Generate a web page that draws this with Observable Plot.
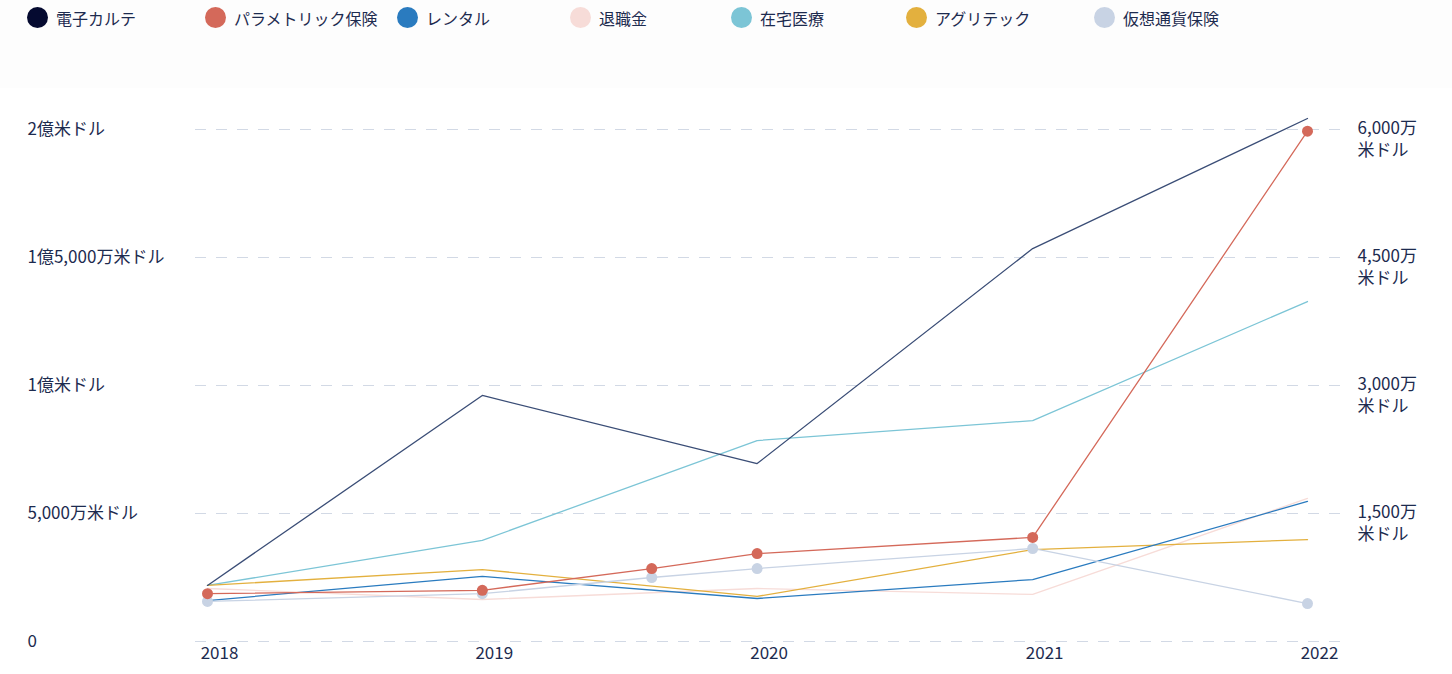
<!DOCTYPE html>
<html><head><meta charset="utf-8">
<script src="https://cdn.jsdelivr.net/npm/d3@7"></script>
<script src="https://cdn.jsdelivr.net/npm/@observablehq/plot@0.6"></script>
<style>
body{margin:0;background:#fff;font-family:"Noto Sans CJK JP","Noto Sans",sans-serif;}
#wrap{position:relative;width:1452px;height:674px;overflow:hidden}
#band{position:absolute;left:0;top:0;width:1452px;height:88px;background:#fdfdfd}
#legend{position:absolute;left:0;top:0;height:40px;width:1452px}
.item{position:absolute;top:7px;height:21px;display:flex;align-items:center;font-size:16px;color:#1d2b4f;white-space:nowrap}
.sw{width:21px;height:21px;border-radius:50%;margin-right:8px;flex:none}
#chart{position:absolute;left:0;top:88px}
</style></head><body>
<div id="wrap"><div id="band"></div><div id="legend"></div><div id="chart"></div></div>
<script>
// ---- data (values in 万米ドル) ----
const seriesNames = ["電子カルテ","パラメトリック保険","レンタル","退職金","在宅医療","アグリテック","仮想通貨保険"];
const seriesColors = ["#050a30","#d4695a","#2a7bbf","#f7dcd8","#7cc5d6","#e3b03e","#c8d3e4"];
const years = ["2018","2019","2020","2021","2022"];
const yearDates = ["2018-01-01","2019-01-01","2020-01-01","2021-01-01","2022-01-01"];
// left axis series
const emr        = [2190, 9610, 6950, 15350, 20430];
const rental     = [1600, 2540, 1680, 2420, 5470];
const retirement = [2070, 1640, 2070, 1840, 5590];
const homecare   = [2190, 3950, 7850, 8630, 13280];
const agritech   = [2190, 2810, 1760, 3590, 3980];
// right axis series (with markers)
const rightDates = ["2018-01-01","2019-01-01","2019-08-14","2020-01-01","2021-01-01","2022-01-01"];
const parametric = [560, 600, 855, 1030, 1220, 5980];
const crypto     = [470, 560, 750, 855, 1090, 445];
// axes
const leftTicks = [0, 5000, 10000, 15000, 20000];
const leftTickLabels = ["0","5,000万米ドル","1億米ドル","1億5,000万米ドル","2億米ドル"];
const rightTicks = [1500, 3000, 4500, 6000];
const rightTickLabels = ["1,500万\n米ドル","3,000万\n米ドル","4,500万\n米ドル","6,000万\n米ドル"];
const leftMax = 20000, rightMax = 6000;

// ---- legend ----
const legendLeft = [27, 205, 397, 570, 731, 906, 1094];
const lg = document.getElementById("legend");
seriesNames.forEach((n, i) => {
  const d = document.createElement("div");
  d.className = "item";
  d.style.left = legendLeft[i] + "px";
  d.innerHTML = `<span class="sw" style="background:${seriesColors[i]}"></span><span>${n}</span>`;
  lg.appendChild(d);
});

// ---- tables ----
const parse = d3.utcParse("%Y-%m-%d");
const rs = leftMax / rightMax;
const leftSeries = [
  {name: seriesNames[0], vals: emr, stroke: "#3a4d76"},
  {name: seriesNames[2], vals: rental, stroke: seriesColors[2]},
  {name: seriesNames[3], vals: retirement, stroke: seriesColors[3]},
  {name: seriesNames[4], vals: homecare, stroke: seriesColors[4]},
  {name: seriesNames[5], vals: agritech, stroke: seriesColors[5]},
];
const leftRows = leftSeries.flatMap(s => s.vals.map((v, i) => ({name: s.name, date: parse(yearDates[i]), v, stroke: s.stroke})));
const rightSeries = [
  {name: seriesNames[6], vals: crypto, stroke: seriesColors[6]},
  {name: seriesNames[1], vals: parametric, stroke: seriesColors[1]},
];
const rightRows = rightSeries.flatMap(s => s.vals.map((v, i) => ({name: s.name, date: parse(rightDates[i]), v: v * rs, stroke: s.stroke})));
const order = ["退職金","在宅医療","アグリテック","レンタル","電子カルテ"];
const textColor = "#1d2b4f";

const chart = Plot.plot({
  width: 1452, height: 586,
  marginLeft: 195, marginRight: 107, marginTop: 41, marginBottom: 33,
  style: {fontFamily: '"Noto Sans CJK JP","Noto Sans",sans-serif', background: "transparent"},
  x: {type: "utc", domain: [parse(yearDates[0]), parse(yearDates[4])], insetLeft: 12, insetRight: 38, axis: null},
  y: {domain: [0, leftMax], axis: null},
  marks: [
    Plot.ruleY(leftTicks, {stroke: "#d2d9e5", strokeWidth: 1.2, strokeDasharray: "11,10"}),
    Plot.text(leftTicks, {y: d => d, text: (d, i) => leftTickLabels[i], frameAnchor: "left", textAnchor: "start", dx: -168, fontSize: 17, fill: textColor}),
    Plot.text(rightTicks, {y: d => d * rs, text: (d, i) => rightTickLabels[i], frameAnchor: "right", textAnchor: "start", lineAnchor: "top", lineHeight: 1.3, dx: 12, dy: -11, fontSize: 17, fill: textColor}),
    Plot.text(years, {x: (d, i) => parse(yearDates[i]), text: d => d, frameAnchor: "bottom", dy: 17, dx: 12, fontSize: 17, fill: textColor}),
    ...order.map(n => Plot.line(leftRows.filter(r => r.name === n), {x: "date", y: "v", stroke: d => d.stroke, strokeWidth: 1.3})),
    ...rightSeries.map(s => Plot.line(rightRows.filter(r => r.name === s.name), {x: "date", y: "v", stroke: s.stroke, strokeWidth: 1.3})),
    ...rightSeries.map(s => Plot.dot(rightRows.filter(r => r.name === s.name), {x: "date", y: "v", r: 5.5, fill: s.stroke, stroke: "none"})),
  ]
});
document.getElementById("chart").appendChild(chart);
</script>
</body></html>
